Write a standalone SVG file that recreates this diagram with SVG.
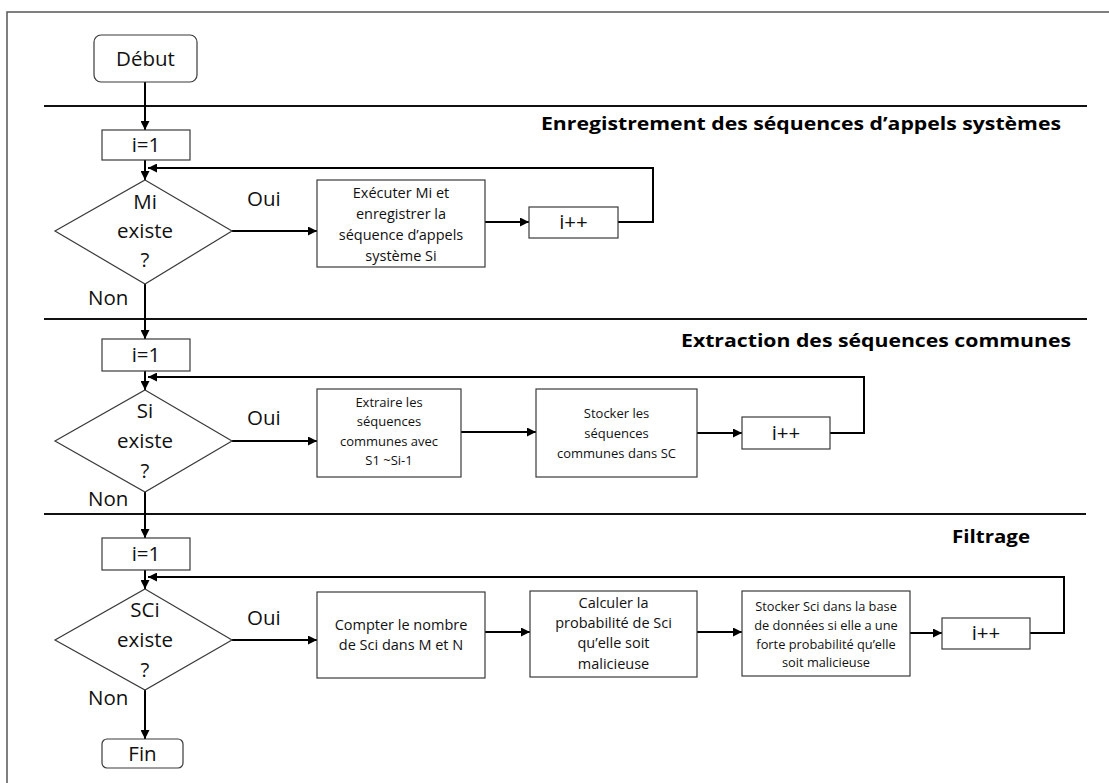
<svg xmlns="http://www.w3.org/2000/svg" width="1109" height="783" viewBox="0 0 1109 783">
  <defs>
    <marker id="arrow" viewBox="0 0 10 10" refX="10" refY="5" markerWidth="4.5" markerHeight="4.5" orient="auto" markerUnits="strokeWidth">
      <path d="M0,0 L10,5 L0,10 z" fill="#000"/>
    </marker>
    <style>
      .box { fill: #fff; stroke: #3a3a3a; stroke-width: 1.2; }
      .sep { stroke: #111; stroke-width: 2; fill: none; }
      .wire { stroke: #000; stroke-width: 2; fill: none; }
      .arr { stroke: #000; stroke-width: 2; fill: none; marker-end: url(#arrow); }
      .t { font-family: "Open Sans", "Liberation Sans", sans-serif; fill: #111; text-anchor: middle; }
      .big { font-size: 20.5px; }
      .lbl { font-family: "Open Sans", "Liberation Sans", sans-serif; fill: #111; font-size: 20.5px; }
      .title { font-family: "Open Sans", "Liberation Sans", sans-serif; fill: #000; font-size: 18.5px; font-weight: bold; }
      .s1 { font-size: 14.5px; }
      .s2 { font-size: 13px; }
      .s3 { font-size: 14.5px; }
      .s4 { font-size: 12.8px; }
    </style>
  </defs>

  <rect width="1109" height="783" fill="#fff"/>
  <!-- page frame -->
  <path d="M7,783 V12 H1109" fill="none" stroke="#555" stroke-width="1.5"/>

  <!-- section separators -->
  <g id="separators">
    <line class="sep" x1="44" y1="106" x2="1087" y2="106"/>
    <line class="sep" x1="44" y1="319" x2="1087" y2="319"/>
    <line class="sep" x1="44" y1="514" x2="1086" y2="514"/>
  </g>

  <!-- section titles -->
  <g id="titles">
    <text class="title" x="541" y="130" textLength="520" lengthAdjust="spacingAndGlyphs">Enregistrement des séquences d’appels systèmes</text>
    <text class="title" x="681" y="347" textLength="390" lengthAdjust="spacingAndGlyphs">Extraction des séquences communes</text>
    <text class="title" x="952" y="543" textLength="78" lengthAdjust="spacingAndGlyphs">Filtrage</text>
  </g>

  <!-- connectors -->
  <g id="connectors">
    <!-- section 1 -->
    <line class="arr" x1="145" y1="82" x2="145" y2="130"/>
    <line class="arr" x1="145" y1="160" x2="145" y2="180"/>
    <line class="arr" x1="232" y1="231" x2="317" y2="231"/>
    <line class="arr" x1="485" y1="222" x2="529" y2="222"/>
    <polyline class="arr" points="618,222 653,222 653,168 148,168"/>
    <line class="arr" x1="145" y1="284" x2="145" y2="339"/>
    <!-- section 2 -->
    <line class="arr" x1="145" y1="371" x2="145" y2="390"/>
    <line class="arr" x1="232" y1="441" x2="317" y2="441"/>
    <line class="arr" x1="461" y1="432" x2="536" y2="432"/>
    <line class="arr" x1="697" y1="433" x2="742" y2="433"/>
    <polyline class="arr" points="830,433 864,433 864,377 148,377"/>
    <line class="arr" x1="145" y1="492" x2="145" y2="538"/>
    <!-- section 3 -->
    <line class="arr" x1="145" y1="570" x2="145" y2="589"/>
    <line class="arr" x1="232" y1="640" x2="317" y2="640"/>
    <line class="arr" x1="485" y1="632" x2="530" y2="632"/>
    <line class="arr" x1="697" y1="632" x2="742" y2="632"/>
    <line class="arr" x1="910" y1="633" x2="942" y2="633"/>
    <polyline class="arr" points="1030,633 1064,633 1064,577 148,577"/>
    <line class="arr" x1="145" y1="690" x2="145" y2="739"/>
  </g>

  <!-- branch labels -->
  <g id="labels">
    <text class="lbl" x="247" y="206">Oui</text>
    <text class="lbl" x="88" y="305">Non</text>
    <text class="lbl" x="247" y="425">Oui</text>
    <text class="lbl" x="88" y="506">Non</text>
    <text class="lbl" x="247" y="625">Oui</text>
    <text class="lbl" x="88" y="705">Non</text>
  </g>

  <!-- start / end -->
  <g id="debut">
    <rect class="box" x="94" y="35" width="103" height="47" rx="7"/>
    <text class="t big" x="145.5" y="66">Début</text>
  </g>
  <g id="fin">
    <rect class="box" x="102" y="739" width="81" height="29" rx="5"/>
    <text class="t big" x="142.5" y="761">Fin</text>
  </g>

  <!-- section 1: recording -->
  <g id="init1">
    <rect class="box" x="102" y="130" width="88" height="30"/>
    <text class="t big" x="146" y="152">i=1</text>
  </g>
  <g id="test1">
    <polygon class="box" points="145,180 232,231 145,284 55,231"/>
    <text class="t big" x="145" y="209">Mi</text>
    <text class="t big" x="145" y="238">existe</text>
    <text class="t big" x="145" y="267">?</text>
  </g>
  <g id="exec">
    <rect class="box" x="317" y="180" width="168" height="87"/>
    <text class="t s1" x="401" y="198">Exécuter Mi et</text>
    <text class="t s1" x="401" y="219">enregistrer la</text>
    <text class="t s1" x="401" y="240">séquence d’appels</text>
    <text class="t s1" x="401" y="261">système Si</text>
  </g>
  <g id="inc1">
    <rect class="box" x="529" y="207" width="89" height="31"/>
    <text class="t big" x="573.5" y="229">i++</text>
  </g>

  <!-- section 2: extraction -->
  <g id="init2">
    <rect class="box" x="102" y="339" width="88" height="32"/>
    <text class="t big" x="146" y="362">i=1</text>
  </g>
  <g id="test2">
    <polygon class="box" points="145,390 232,441 145,492 55,441"/>
    <text class="t big" x="145" y="418">Si</text>
    <text class="t big" x="145" y="448">existe</text>
    <text class="t big" x="145" y="478">?</text>
  </g>
  <g id="extract">
    <rect class="box" x="317" y="389" width="144" height="88"/>
    <text class="t s2" x="389" y="407">Extraire les</text>
    <text class="t s2" x="389" y="426">séquences</text>
    <text class="t s2" x="389" y="446">communes avec</text>
    <text class="t s2" x="389" y="465">S1 ~Si-1</text>
  </g>
  <g id="store1">
    <rect class="box" x="536" y="389" width="161" height="88"/>
    <text class="t s2" x="616.5" y="418">Stocker les</text>
    <text class="t s2" x="616.5" y="438">séquences</text>
    <text class="t s2" x="616.5" y="458">communes dans SC</text>
  </g>
  <g id="inc2">
    <rect class="box" x="742" y="417" width="88" height="32"/>
    <text class="t big" x="786" y="440">i++</text>
  </g>

  <!-- section 3: filtering -->
  <g id="init3">
    <rect class="box" x="102" y="538" width="88" height="32"/>
    <text class="t big" x="146" y="561">i=1</text>
  </g>
  <g id="test3">
    <polygon class="box" points="145,589 232,640 145,690 55,640"/>
    <text class="t big" x="145" y="617">SCi</text>
    <text class="t big" x="145" y="647">existe</text>
    <text class="t big" x="145" y="677">?</text>
  </g>
  <g id="count">
    <rect class="box" x="317" y="592" width="168" height="86"/>
    <text class="t s3" x="401" y="630">Compter le nombre</text>
    <text class="t s3" x="401" y="650">de Sci dans M et N</text>
  </g>
  <g id="proba">
    <rect class="box" x="530" y="591" width="167" height="86"/>
    <text class="t s3" x="613.5" y="608">Calculer la</text>
    <text class="t s3" x="613.5" y="628">probabilité de Sci</text>
    <text class="t s3" x="613.5" y="648">qu’elle soit</text>
    <text class="t s3" x="613.5" y="669">malicieuse</text>
  </g>
  <g id="store2">
    <rect class="box" x="742" y="591" width="168" height="85"/>
    <text class="t s4" x="826" y="611">Stocker Sci dans la base</text>
    <text class="t s4" x="826" y="630">de données si elle a une</text>
    <text class="t s4" x="826" y="649">forte probabilité qu’elle</text>
    <text class="t s4" x="826" y="667">soit malicieuse</text>
  </g>
  <g id="inc3">
    <rect class="box" x="942" y="618" width="88" height="31"/>
    <text class="t big" x="986" y="640">i++</text>
  </g>
</svg>
